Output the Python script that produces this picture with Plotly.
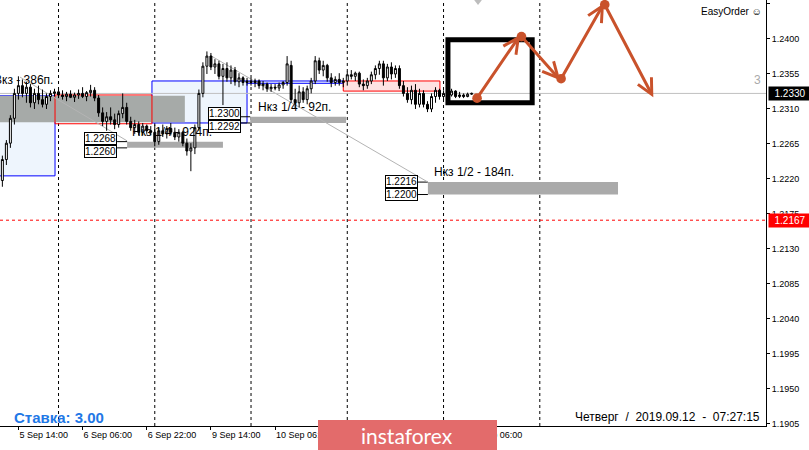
import plotly.graph_objects as go

# H1 bars, index 0 = 6 Sep 2019 00:00
bars = list(range(-14, 104))
opens = [1.2218, 1.2245, 1.2266, 1.2298, 1.2330, 1.2340, 1.2330, 1.2338, 1.2318, 1.2330, 1.2322, 1.2316, 1.2326, 1.2330,
         1.2332, 1.2328, 1.2326, 1.2329, 1.2325, 1.2328, 1.2330, 1.2326, 1.2331, 1.2334, 1.2324, 1.2305, 1.2294, 1.2300,
         1.2296, 1.2290, 1.2304, 1.2312, 1.2294, 1.2286, 1.2290, 1.2280, 1.2288, 1.2282, 1.2280, 1.2268, 1.2282, 1.2278,
         1.2285, 1.2280, 1.2274, 1.2280, 1.2266, 1.2256, 1.2260, 1.2286, 1.2330, 1.2365, 1.2378, 1.2364, 1.2368, 1.2352,
         1.2362, 1.2350, 1.2360, 1.2345, 1.2350, 1.2344, 1.2346, 1.2344, 1.2346, 1.2340, 1.2342, 1.2336, 1.2338, 1.2337,
         1.2341, 1.2344, 1.2366, 1.2322, 1.2318, 1.2332, 1.2322, 1.2336, 1.2346, 1.2372, 1.2360, 1.2366, 1.2350, 1.2344,
         1.2348, 1.2344, 1.2346, 1.2354, 1.2352, 1.2356, 1.2342, 1.2340, 1.2346, 1.2354, 1.2362, 1.2368, 1.2350, 1.2364,
         1.2355, 1.2362, 1.2340, 1.2330, 1.2322, 1.2334, 1.2316, 1.2330, 1.2316, 1.2310, 1.2326, 1.2334, 1.2326, 1.2330,
         1.2328, 1.2333, 1.2326, 1.2328, 1.2326, 1.2329]
highs = [1.2250, 1.2270, 1.2302, 1.2336, 1.2352, 1.2348, 1.2345, 1.2342, 1.2336, 1.2340, 1.2335, 1.2330, 1.2334, 1.2336,
         1.2336, 1.2334, 1.2332, 1.2334, 1.2331, 1.2335, 1.2338, 1.2333, 1.2341, 1.2338, 1.2328, 1.2312, 1.2306, 1.2312,
         1.2304, 1.2308, 1.2330, 1.2318, 1.2300, 1.2296, 1.2294, 1.2292, 1.2290, 1.2288, 1.2290, 1.2286, 1.2290, 1.2288,
         1.2292, 1.2286, 1.2284, 1.2282, 1.2272, 1.2266, 1.2290, 1.2335, 1.2370, 1.2384, 1.2382, 1.2374, 1.2372, 1.2368,
         1.2370, 1.2366, 1.2364, 1.2356, 1.2352, 1.2350, 1.2350, 1.2349, 1.2348, 1.2346, 1.2344, 1.2342, 1.2342, 1.2344,
         1.2346, 1.2378, 1.2372, 1.2336, 1.2340, 1.2338, 1.2340, 1.2350, 1.2378, 1.2376, 1.2372, 1.2368, 1.2356, 1.2352,
         1.2356, 1.2350, 1.2358, 1.2360, 1.2358, 1.2358, 1.2348, 1.2350, 1.2358, 1.2366, 1.2372, 1.2372, 1.2368, 1.2370,
         1.2366, 1.2366, 1.2346, 1.2338, 1.2340, 1.2342, 1.2336, 1.2334, 1.2320, 1.2330, 1.2338, 1.2336, 1.2334, 1.2336,
         1.2336, 1.2334, 1.2332, 1.2330, 1.2331, 1.2331]
lows = [1.2210, 1.2238, 1.2260, 1.2290, 1.2322, 1.2325, 1.2318, 1.2312, 1.2310, 1.2316, 1.2312, 1.2310, 1.2320, 1.2326,
        1.2324, 1.2322, 1.2320, 1.2324, 1.2319, 1.2323, 1.2324, 1.2320, 1.2326, 1.2320, 1.2300, 1.2288, 1.2282, 1.2290,
        1.2284, 1.2286, 1.2298, 1.2290, 1.2282, 1.2278, 1.2276, 1.2276, 1.2278, 1.2276, 1.2262, 1.2264, 1.2274, 1.2272,
        1.2276, 1.2270, 1.2268, 1.2262, 1.2250, 1.2230, 1.2252, 1.2282, 1.2325, 1.2355, 1.2360, 1.2355, 1.2348, 1.2315,
        1.2345, 1.2342, 1.2340, 1.2338, 1.2340, 1.2340, 1.2340, 1.2338, 1.2336, 1.2334, 1.2332, 1.2332, 1.2334, 1.2333,
        1.2336, 1.2340, 1.2318, 1.2310, 1.2312, 1.2318, 1.2316, 1.2330, 1.2342, 1.2355, 1.2352, 1.2345, 1.2338, 1.2340,
        1.2340, 1.2338, 1.2340, 1.2348, 1.2346, 1.2338, 1.2334, 1.2336, 1.2342, 1.2348, 1.2354, 1.2340, 1.2346, 1.2348,
        1.2350, 1.2336, 1.2326, 1.2318, 1.2316, 1.2310, 1.2312, 1.2312, 1.2306, 1.2306, 1.2318, 1.2322, 1.2322, 1.2326,
        1.2326, 1.2324, 1.2324, 1.2324, 1.2325, 1.2328]
closes = [1.2245, 1.2266, 1.2298, 1.2330, 1.2340, 1.2330, 1.2338, 1.2318, 1.2330, 1.2322, 1.2316, 1.2326, 1.2330, 1.2332,
          1.2328, 1.2326, 1.2329, 1.2325, 1.2328, 1.2330, 1.2326, 1.2331, 1.2334, 1.2324, 1.2305, 1.2294, 1.2300, 1.2296,
          1.2290, 1.2304, 1.2312, 1.2294, 1.2286, 1.2290, 1.2280, 1.2288, 1.2282, 1.2280, 1.2268, 1.2282, 1.2278, 1.2285,
          1.2280, 1.2274, 1.2280, 1.2266, 1.2256, 1.2260, 1.2286, 1.2330, 1.2365, 1.2378, 1.2364, 1.2368, 1.2352, 1.2362,
          1.2350, 1.2360, 1.2345, 1.2350, 1.2344, 1.2346, 1.2344, 1.2346, 1.2340, 1.2342, 1.2336, 1.2338, 1.2337, 1.2341,
          1.2344, 1.2368, 1.2322, 1.2318, 1.2332, 1.2322, 1.2336, 1.2346, 1.2372, 1.2360, 1.2366, 1.2350, 1.2344, 1.2348,
          1.2344, 1.2346, 1.2354, 1.2352, 1.2356, 1.2342, 1.2340, 1.2346, 1.2354, 1.2362, 1.2368, 1.2350, 1.2364, 1.2355,
          1.2362, 1.2340, 1.2330, 1.2322, 1.2334, 1.2316, 1.2330, 1.2316, 1.2310, 1.2326, 1.2334, 1.2326, 1.2330, 1.2328,
          1.2333, 1.2326, 1.2328, 1.2326, 1.2329, 1.2330]

# the two labels under the instaforex tag are hidden in the reference
time_ticks = [-10, 6, 22, 38, 54, 70, 86, 102]
time_labels = ['5 Sep 14:00', '6 Sep 06:00', '6 Sep 22:00', '9 Sep 14:00', '10 Sep 06:00', '', '', '12 Sep 06:00']
day_starts = [0, 24, 48, 72, 96, 120]
price_ticks = [1.1905, 1.1950, 1.1995, 1.2040, 1.2085, 1.2130, 1.2175, 1.2220, 1.2265, 1.2310, 1.2355, 1.2400, 1.2445]

bid = 1.2330
alert = 1.2167
# target levels (top, bottom) and their texts
levels = [(1.2268, 1.2260), (1.2300, 1.2292), (1.2216, 1.2200)]
level_texts = ['Нкз 1/4 - 924п.', 'Нкз 1/4 - 92п.', 'Нкз 1/2 - 184п.']
# forecast path (bar, price)
path_x = [104.1, 115.1, 125.1, 136.0, 148.3]
path_y = [1.2322, 1.2405, 1.2347, 1.2446, 1.2325]

XR = [-14.59, 176.4]
YR = [1.19024, 1.24501]

fig = go.Figure(go.Candlestick(
    x=bars, open=opens, high=highs, low=lows, close=closes,
    increasing=dict(line=dict(color='black', width=1), fillcolor='white'),
    decreasing=dict(line=dict(color='black', width=1), fillcolor='black'),
    whiskerwidth=0, showlegend=False, hoverinfo='skip'))

fig.add_trace(go.Scatter(x=[104.6], y=[1.2452], mode='markers', showlegend=False, hoverinfo='skip',
                         marker=dict(symbol='triangle-down', size=13, color='#bdbdbd')))

shapes = []


def box(x0, x1, y0, y1, fill='rgba(0,0,0,0)', line='rgba(0,0,0,0)', lw=1):
    shapes.append(dict(type='rect', xref='x', yref='y', x0=x0, x1=x1, y0=y0, y1=y1,
                       fillcolor=fill, line=dict(color=line, width=lw), layer='below'))


def seg(x0, x1, y0, y1, color, lw=1, dash='solid', layer='below'):
    shapes.append(dict(type='line', xref='x', yref='y', x0=x0, x1=x1, y0=y0, y1=y1,
                       line=dict(color=color, width=lw, dash=dash), layer=layer))


# zones
box(-16, -0.87, 1.2224, 1.2327, '#eef5fd', '#0000ff')
box(23.3, 47.0, 1.2292, 1.2346, '#eef5fd', '#0000ff')
box(47.0, 71.0, 1.2343, 1.2346, '#eef5fd', '#0000ff')
box(71.0, 95.1, 1.2333, 1.2346, '#fde2e2', '#ff0000')
box(-16, 31.5, 1.2293, 1.2327, '#a6aaa8')
box(-0.87, 23.3, 1.2291, 1.2328, line='#ff0000')

# level bars
box(17.1, 41.0, levels[0][1], levels[0][0], '#aaaaaa')
box(47.8, 71.7, levels[1][1], levels[1][0], '#aaaaaa')
box(92.1, 139.5, levels[2][1], levels[2][0], '#aaaaaa')
for (xa, xb), (hi, lo) in zip([(14.6, 17.1), (45.5, 47.8), (89.6, 92.1)], levels):
    seg(xa, xb, hi, hi, 'black')
    seg(xa, xb, lo, lo, 'black')

# trend lines
seg(-9.6, 17.1, 1.2351, 1.2269, '#b4b4b4')
seg(37.8, 92.1, 1.2379, 1.2216, '#b4b4b4')

seg(XR[0], XR[1], bid, bid, '#c0c0c0')
seg(XR[0], XR[1], alert, alert, '#ff0000', dash='3px,3px')
for d in day_starts:
    shapes.append(dict(type='line', xref='x', yref='paper', x0=d, x1=d, y0=0, y1=1,
                       line=dict(color='black', width=1, dash='3px,3px'), layer='below'))

# forecast box
shapes.append(dict(type='rect', xref='x', yref='y', x0=97.1, x1=118.1, y0=1.2318, y1=1.2399,
                   line=dict(color='black', width=5), layer='above'))

# instaforex tag
shapes.append(dict(type='rect', xref='paper', yref='paper', x0=318 / 766, x1=497 / 766,
                   y0=(426 - 420) / 426, y1=(426 - 452) / 426, fillcolor='#e36b6b',
                   line=dict(width=0), layer='above'))

ann = []
F = 'Liberation Sans'
for t, xx, yy in zip(level_texts, [17.8, 49.3, 93.1], [1.2280, 1.2313, 1.2229]):
    ann.append(dict(x=xx, y=yy, text=t, showarrow=False, xanchor='left', yanchor='middle',
                    font=dict(family=F, size=12, color='black')))
ann.append(dict(x=-0.87, y=1.2347, text='Вкз - 386п.', showarrow=False, xanchor='right',
                yanchor='middle', font=dict(family=F, size=12, color='black')))

for xr, (hi, lo) in zip([14.6, 45.5, 89.6], levels):
    mid = (hi + lo) / 2
    ann.append(dict(x=xr, y=mid, text=f'{hi:.4f}', showarrow=False, xanchor='right', yanchor='bottom',
                    bgcolor='white', bordercolor='black', borderwidth=1, borderpad=0,
                    font=dict(family=F, size=10, color='black')))
    ann.append(dict(x=xr, y=mid, text=f'{lo:.4f}', showarrow=False, xanchor='right', yanchor='top',
                    bgcolor='white', bordercolor='black', borderwidth=1, borderpad=0,
                    font=dict(family=F, size=10, color='black')))

for i in range(len(path_x) - 1):
    ann.append(dict(x=path_x[i + 1], y=path_y[i + 1], ax=path_x[i], ay=path_y[i], axref='x', ayref='y',
                    xref='x', yref='y', text='', showarrow=True, arrowhead=5, arrowsize=1,
                    arrowwidth=3, arrowcolor='#c9522b', arrowside='end+start', startarrowhead=6,
                    startarrowsize=0.8))

ann.append(dict(xref='paper', yref='y', x=1, xshift=2, y=bid, text='1.2330', showarrow=False,
                xanchor='left', bgcolor='black', font=dict(family=F, size=10, color='white'), width=40))
ann.append(dict(xref='paper', yref='y', x=1, xshift=2, y=alert, text='1.2167', showarrow=False,
                xanchor='left', bgcolor='#ff0000', font=dict(family=F, size=10, color='white'), width=40))
ann.append(dict(xref='paper', yref='y', x=1, xshift=-3, y=1.2347, text='3', showarrow=False,
                xanchor='right', font=dict(family=F, size=12, color='#aaaaaa')))
ann.append(dict(xref='paper', yref='paper', x=1, xshift=-2, y=1, yshift=-4, text='EasyOrder ☺',
                showarrow=False, xanchor='right', yanchor='top', font=dict(family=F, size=10, color='black')))
ann.append(dict(xref='paper', yref='paper', x=12 / 766, y=(426 - 417) / 426, text='<b>Ставка: 3.00</b>',
                showarrow=False, xanchor='left', yanchor='middle', font=dict(family=F, size=15, color='#1f78e6')))
ann.append(dict(xref='paper', yref='paper', x=1, xshift=-4, y=(426 - 417) / 426,
                text='Четверг  /  2019.09.12  -  07:27:15', showarrow=False, xanchor='right',
                yanchor='middle', font=dict(family=F, size=12, color='black')))
ann.append(dict(xref='paper', yref='paper', x=407 / 766, y=(426 - 436) / 426, text='instaforex',
                showarrow=False, xanchor='center', yanchor='middle', font=dict(family='Lato', size=21, color='white')))

fig.update_layout(
    width=809, height=450,
    margin=dict(l=0, r=43, t=0, b=24),
    paper_bgcolor='white', plot_bgcolor='white',
    shapes=shapes, annotations=ann,
    xaxis=dict(range=XR, rangeslider=dict(visible=False), showgrid=False, zeroline=False,
               tickvals=time_ticks, ticktext=time_labels, ticks='outside', ticklen=3, tickcolor='black',
               ticklabelposition='outside right', showline=True, linecolor='black',
               tickfont=dict(family=F, size=9, color='black')),
    yaxis=dict(range=YR, side='right', showgrid=False, zeroline=False, tickvals=price_ticks,
               ticktext=[f'{p:.4f}' for p in price_ticks], ticks='outside', ticklen=3, tickcolor='black',
               showline=True, linecolor='black', tickfont=dict(family=F, size=9, color='black')),
)

fig.write_html("out.html", config={'displayModeBar': False},
               post_script="document.body.style.margin = '0';")
